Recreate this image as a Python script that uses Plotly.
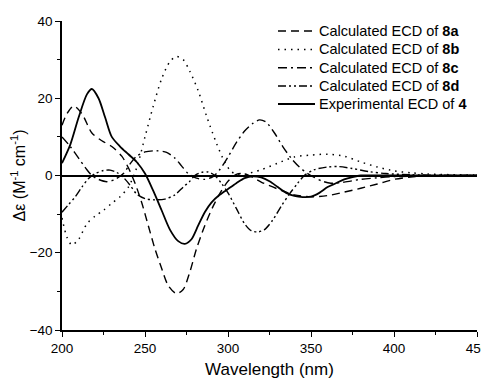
import plotly.graph_objects as go

# Experimental ECD of 4
exp_x = [200, 205, 210, 215, 218, 222, 226, 230, 235, 240, 245, 250, 255, 260, 265, 270, 274, 278, 282, 286, 290, 295, 300, 305, 310, 315, 320, 325, 330, 335, 340, 345, 350, 355, 360, 365, 370, 375, 380, 390, 450]
exp_y = [3.2, 8, 15, 21, 22.4, 20, 15, 10, 7.5, 5.5, 3.5, 0.5, -4, -9, -14, -17, -17.7, -16.5, -13, -9.5, -7, -5, -3.5, -2, -0.7, -0.2, -0.5, -1.5, -3, -4.5, -5.3, -5.6, -5.5, -4.5, -3, -2, -1, -0.4, 0, 0, 0]

# Calculated ECD of 8a
a_x = [200, 203, 207, 212, 218, 224, 230, 236, 240, 244, 248, 252, 256, 260, 264, 269, 273, 277, 281, 286, 291, 296, 300, 305, 310, 315, 320, 330, 340, 350, 360, 370, 380, 390, 400, 410, 420, 450]
a_y = [13, 16, 18, 16, 11, 9, 7.5, 5, 2, -2, -7, -13, -19, -24, -28.5, -30.6, -29.5, -25, -19, -13, -8, -4, -1.5, 0.3, 0.5, -0.5, -1.7, -3.5, -5, -5.5, -5.2, -4.3, -3.3, -2.2, -1, -0.4, -0.1, 0]

# Calculated ECD of 8b
b_x = [200, 203, 206, 210, 215, 220, 225, 230, 235, 240, 245, 250, 255, 260, 265, 269, 273, 277, 282, 287, 293, 298, 302, 306, 310, 320, 330, 340, 350, 360, 370, 380, 390, 400, 410, 420, 435, 450]
b_y = [-11, -16, -18, -16.5, -12.5, -10.5, -9, -7.2, -5.5, -3, 2, 10, 18, 25, 29.5, 30.8, 30, 27, 22, 15.5, 8.4, 3.5, 1, 0.2, 0.3, 1.5, 3.2, 4.8, 5.3, 5.5, 5, 3.5, 2.2, 1.2, 0.7, 0.4, 0.2, 0.1]

# Calculated ECD of 8c
c_x = [200, 205, 210, 215, 218, 222, 227, 232, 237, 241, 245, 250, 257, 263, 268, 272, 276, 281, 286, 291, 295, 300, 305, 310, 315, 319, 323, 328, 333, 338, 343, 348, 352, 357, 362, 370, 380, 390, 400, 420, 450]
c_y = [10, 7.5, 4.5, 1.5, 0, -1, -1.6, -1, 0.5, 3, 5, 6.1, 6.4, 6, 4.5, 2.5, 0.5, -0.7, -1, -0.3, 1.5, 4.8, 8.5, 11.5, 13.5, 14.4, 13.8, 11, 7.5, 4.5, 2.2, 0.5, -0.5, -1.5, -2, -1.7, -1, -0.6, -0.3, -0.1, 0]

# Calculated ECD of 8d
d_x = [200, 204, 208, 212, 216, 220, 225, 229, 233, 237, 241, 245, 250, 256, 262, 268, 273, 277, 280, 284, 288, 292, 296, 300, 305, 310, 314, 318, 322, 327, 332, 337, 342, 346, 352, 360, 367, 375, 385, 395, 410, 430, 450]
d_y = [-9.5, -7.5, -5.5, -3, -0.8, 0.5, 1.3, 1.4, 0.8, -0.5, -2.5, -4.8, -6, -6.3, -6.1, -5, -3, -1.5, 0, 0.8, 0.9, 0, -2, -4.5, -8.5, -12.5, -14.3, -14.6, -14, -11.5, -8, -4.8, -2, 0, 1.5, 2.2, 2.3, 1.8, 1, 0.5, 0.2, 0.05, 0]

names = ["Calculated ECD of <b>8a</b>", "Calculated ECD of <b>8b</b>",
         "Calculated ECD of <b>8c</b>", "Calculated ECD of <b>8d</b>",
         "Experimental ECD of <b>4</b>"]

series = [(a_x, a_y, "8px,5px", 1.4),
          (b_x, b_y, "1.5px,5px", 1.5),
          (c_x, c_y, "9px,4px,2px,4px", 1.4),
          (d_x, d_y, "8px,3px,2px,3px,2px,3px", 1.4),
          (exp_x, exp_y, "solid", 1.8)]

OFF = 8  # page body margin
W, H = 489, 377
ML, MR, MT, MB = 54, 20, 13, 55
PW, PH = W - ML - MR, H - MT - MB

fig = go.Figure()
for (xs, ys, dash, w), nm in zip(series, names):
    fig.add_trace(go.Scatter(x=xs, y=ys, mode="lines", name=nm, showlegend=False,
                             line=dict(color="black", width=w, dash=dash,
                                       shape="spline", smoothing=0.8)))

# manual legend (positions given in page pixels)
leg_rows_px = [31, 49.5, 67.8, 86, 104]
line_x0, line_x1, text_x = 278, 315, 317
for (xs, ys, dash, w), nm, py in zip(series, names, leg_rows_px):
    yp = (H - MB - (py - OFF)) / PH
    fig.add_shape(type="line", xref="paper", yref="paper",
                  x0=(line_x0 - OFF - ML) / PW, x1=(line_x1 - OFF - ML) / PW, y0=yp, y1=yp,
                  line=dict(color="black", width=w, dash=dash))
    fig.add_annotation(xref="paper", yref="paper", x=(text_x - OFF - ML) / PW, y=yp,
                       text=nm, showarrow=False, xanchor="left", yanchor="middle",
                       font=dict(size=14.5))

fig.update_layout(
    width=W, height=H,
    margin=dict(l=ML, r=MR, t=MT, b=MB),
    paper_bgcolor="white", plot_bgcolor="white",
    font=dict(family="Liberation Sans, Arial, sans-serif", color="black", size=13),
    showlegend=False,
)
fig.update_xaxes(range=[200, 450], tickvals=[200, 250, 300, 350, 400, 450],
                 automargin=False, ticklabeloverflow="allow",
                 showline=True, linecolor="black", linewidth=1.5,
                 ticks="outside", ticklen=5, tickwidth=1.2, tickcolor="black",
                 minor=dict(tickvals=[225, 275, 325, 375, 425], ticks="outside",
                            ticklen=3, tickcolor="black", tickwidth=1),
                 showgrid=False, zeroline=False,
                 title=dict(text="Wavelength (nm)", font=dict(size=17), standoff=8),
                 tickfont=dict(size=13.5))
fig.update_yaxes(range=[-40, 40], tickvals=[-40, -20, 0, 20, 40],
                 automargin=False, ticklabeloverflow="allow",
                 showline=True, linecolor="black", linewidth=1.5,
                 ticks="outside", ticklen=5, tickwidth=1.2, tickcolor="black",
                 minor=dict(tickvals=[-30, -10, 10, 30], ticks="outside",
                            ticklen=3, tickcolor="black", tickwidth=1),
                 showgrid=False, zeroline=True, zerolinecolor="black", zerolinewidth=1.5,
                 title=dict(text="Δε (M<sup>-1</sup> cm<sup>-1</sup>)", font=dict(size=16), standoff=6),
                 tickfont=dict(size=13.5))

fig.write_html("out.html",
               post_script="document.documentElement.style.overflow='hidden';"
                           "document.body.style.overflow='hidden';")
